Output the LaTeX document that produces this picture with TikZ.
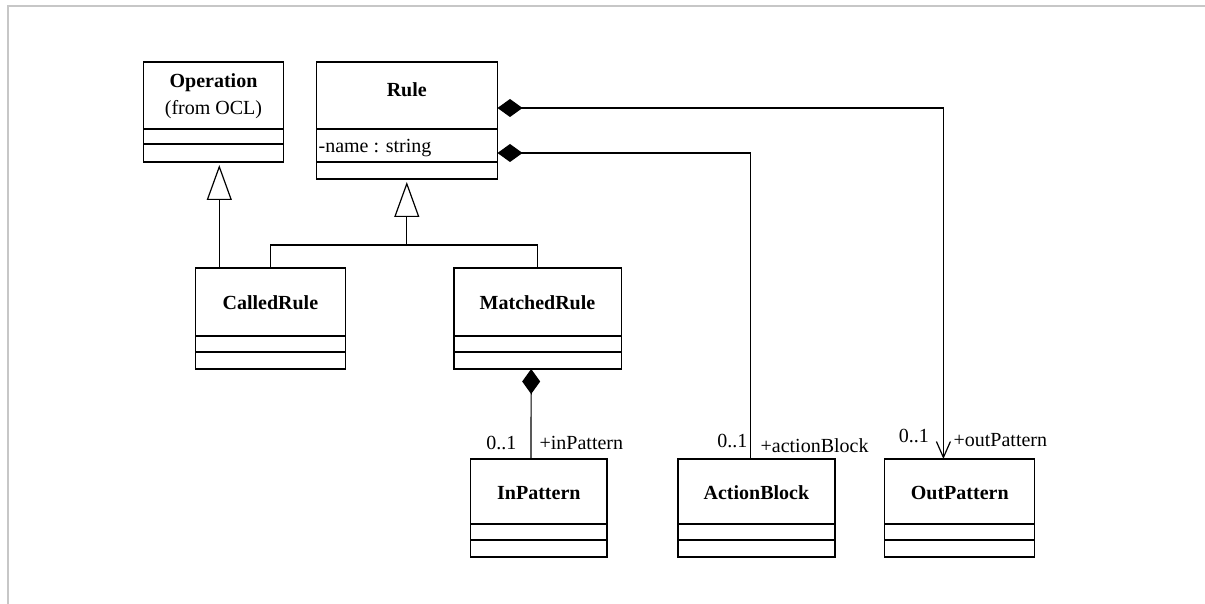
\documentclass[tikz,border=0pt]{standalone}
\usepackage{fontspec}
\setmainfont{Liberation Serif}
\usetikzlibrary{arrows.meta,calc}
\newcommand\classdividers[3]{%
  \draw ([yshift=-#2pt]#1.north west) -- ([yshift=-#2pt]#1.north east);
  \draw ([yshift=-#3pt]#1.north west) -- ([yshift=-#3pt]#1.north east);}
\begin{document}
\begin{tikzpicture}[x=1pt,y=-1pt,
  line width=1.2pt,
  classbox/.style={draw,rectangle,inner sep=0pt,outer sep=0pt},
  cname/.style={font=\fontsize{20}{24}\selectfont\bfseries,inner sep=0pt,anchor=base},
  ctext/.style={font=\fontsize{20}{24}\selectfont,inner sep=0pt},
  gen/.style={-{Triangle[open,length=35pt,width=25pt,line width=1.2pt]},shorten >=3pt},
  compo/.style={{Diamond[length=25pt,width=18pt]}-},
  compoarrow/.style={{Diamond[length=25pt,width=18pt]}-{Straight Barb[length=16pt,width=14pt,line width=1.2pt]}},
  frameline/.style={draw=black!22,line width=2pt}]
\useasboundingbox (0,0) rectangle (1205,604);
\draw[frameline] (8,604) -- (8,6) -- (1205,6);

% class boxes
\node[classbox,minimum width=140.1pt,minimum height=100pt] (op) at (213.55,112) {};
\node[classbox,minimum width=181.4pt,minimum height=117pt] (rule) at (406.8,120.5) {};
\node[classbox,minimum width=150.4pt,minimum height=101pt] (called) at (270.4,318.5) {};
\node[classbox,minimum width=167.3pt,minimum height=101pt] (matched) at (537.55,318.5) {};
\node[classbox,minimum width=136.3pt,minimum height=98pt] (inp) at (538.85,508) {};
\node[classbox,minimum width=157.1pt,minimum height=98pt] (ab) at (756.45,508) {};
\node[classbox,minimum width=150.1pt,minimum height=98pt] (outp) at (959.75,508) {};

\classdividers{op}{67}{82}
\classdividers{rule}{67}{100}
\classdividers{called}{68}{84}
\classdividers{matched}{68}{84}
\classdividers{inp}{65}{81}
\classdividers{ab}{65}{81}
\classdividers{outp}{65}{81}

% names
\node[cname] (opname) at (213.5,88) {Operation};
\node[ctext,anchor=base] (opfrom) at (213.5,115) {(from OCL)};
\node[cname] (rulename) at (406.8,97) {Rule};
\node[ctext,anchor=base west] (ruleattr) at (318,153) {-name : string};
\node[cname] (calledname) at (270.4,309) {CalledRule};
\node[cname] (matchedname) at (537.5,309) {MatchedRule};
\node[cname] (inpname) at (538.85,499) {InPattern};
\node[cname] (abname) at (756.45,499) {ActionBlock};
\node[cname] (outpname) at (959.75,499) {OutPattern};

% generalizations
\draw[gen] ([xshift=-51.1pt]called.north) -- ([xshift=-51.1pt]called.north |- op.south);
\coordinate (bar) at ($(rule.south)+(0,66)$);
\draw (called.north) |- (bar) -| (matched.north);
\draw[gen] (bar) -- (rule.south);

% compositions
\draw[compoarrow] ([yshift=-46pt]rule.north east) -| ([xshift=-16.35pt]outp.north);
\draw[compo] ([yshift=-91pt]rule.north east) -| ([xshift=-5.95pt]ab.north);
\draw[compo] ([xshift=-6.35pt]matched.south) -- ([xshift=-7.85pt]inp.north);

% role labels
\node[ctext,anchor=base east] (m1) at (517,449) {0..1};
\node[ctext,anchor=base west] (r1) at (539,449) {+inPattern};
\node[ctext,anchor=base east] (m2) at (748,447) {0..1};
\node[ctext,anchor=base west] (r2) at (760,452) {+actionBlock};
\node[ctext,anchor=base east] (m3) at (929.5,442) {0..1};
\node[ctext,anchor=base west] (r3) at (953,446) {+outPattern};
\end{tikzpicture}
\end{document}
